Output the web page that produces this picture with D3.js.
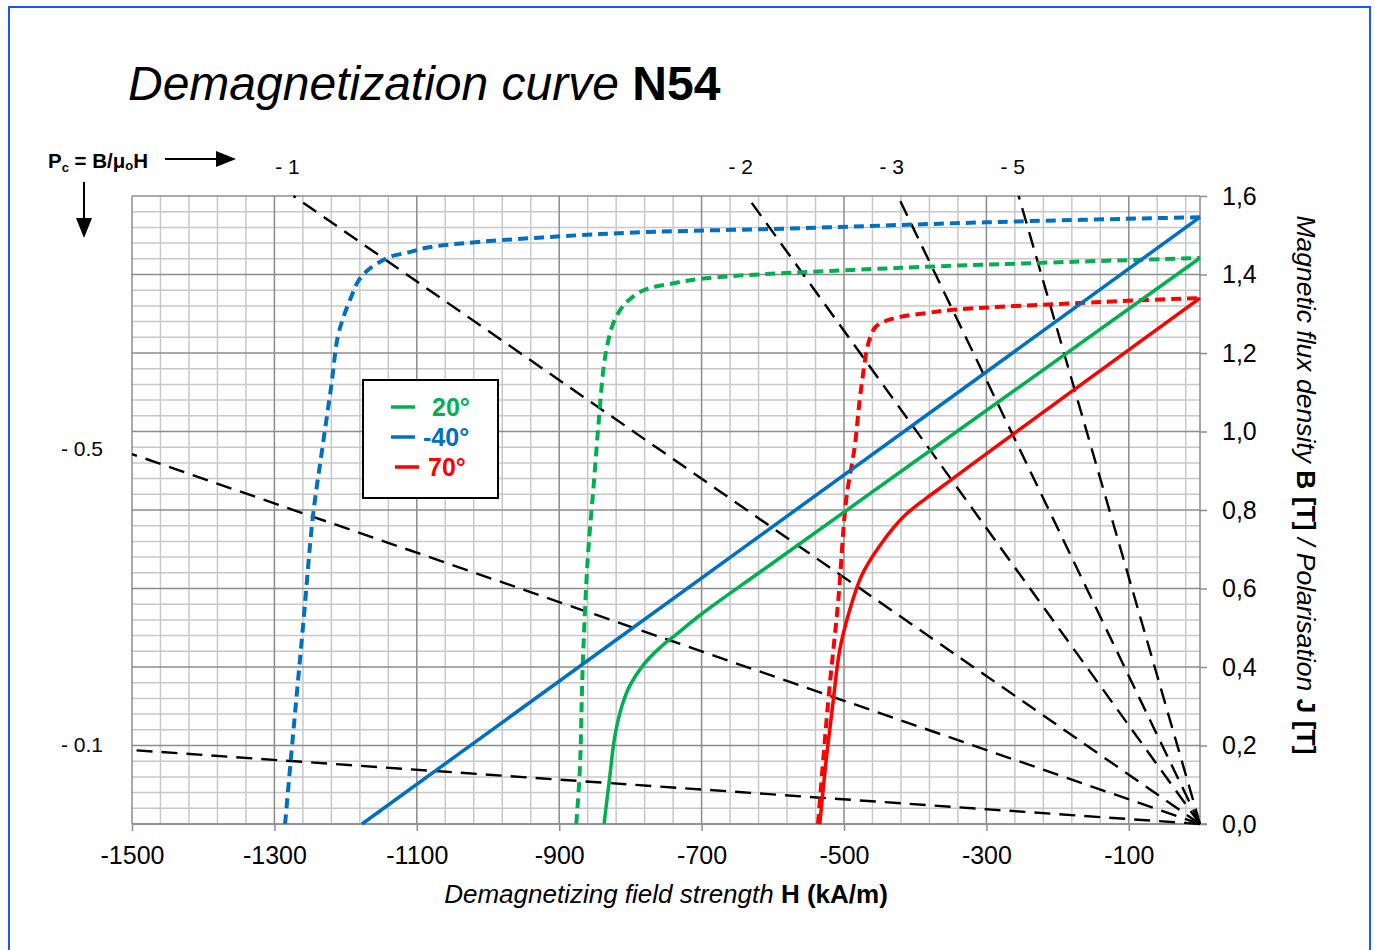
<!DOCTYPE html>
<html>
<head>
<meta charset="utf-8">
<script src="https://cdn.jsdelivr.net/npm/d3@7"></script>
<style>
  html, body { margin: 0; padding: 0; background: #fff; }
  svg { display: block; font-family: "Liberation Sans", Arial, sans-serif; }
</style>
</head>
<body>
<svg id="chart" width="1375" height="950"></svg>
<script>
// ---- Data (H in kA/m, B / J in tesla) ----
const xTicks = [-1500, -1300, -1100, -900, -700, -500, -300, -100];
const yTicks = [0, 0.2, 0.4, 0.6, 0.8, 1.0, 1.2, 1.4, 1.6];

// permeance coefficient load lines Pc = B / (mu0 H)
const pcValues = [-0.1, -0.5, -1, -2, -3, -5];
const pcLabels = ["- 0.1", "- 0.5", "- 1", "- 2", "- 3", "- 5"];

// -40 °C
const hBm40 = [-1177, 0];
const bBm40 = [0, 1.546];
const hJm40 = [-1285, -1277, -1259, -1246, -1233, -1220, -1211, -1201, -1191, -1183, -1169, -1152, -1138, -1110, -1081, -843, -562, -281, 0];
const jJm40 = [0, 0.163, 0.52, 0.782, 0.953, 1.118, 1.241, 1.302, 1.348, 1.381, 1.411, 1.432, 1.445, 1.457, 1.470, 1.503, 1.518, 1.534, 1.546];

// 20 °C
const hB20 = [-837, -829, -822, -812, -801, -782, -758, -735, -700, -600, 0];
const bB20 = [0, 0.12, 0.222, 0.30, 0.352, 0.405, 0.450, 0.484, 0.535, 0.665, 1.442];
const hJ20 = [-876, -871, -867, -860, -851, -844, -838, -833, -826, -817, -805, -789, -772, -744, -702, -421, 0];
const jJ20 = [0, 0.138, 0.40, 0.673, 0.876, 1.037, 1.157, 1.215, 1.266, 1.302, 1.330, 1.353, 1.366, 1.376, 1.389, 1.417, 1.442];

// 70 °C
const hB70 = [-534, -525, -515, -506, -492, -475, -449, -414, -365, 0];
const bB70 = [0, 0.163, 0.316, 0.443, 0.545, 0.634, 0.711, 0.787, 0.856, 1.34];
const hJ70 = [-536.5, -522, -508, -497, -485, -478, -473, -468, -463, -456, -445, -421, -383, -347, -140, 0];
const jJ70 = [0, 0.316, 0.571, 0.825, 0.961, 1.080, 1.149, 1.208, 1.241, 1.266, 1.279, 1.292, 1.302, 1.310, 1.330, 1.340];

const legendLabels = ["20°", "-40°", "70°"];
const colors = { c20: "#00B050", cm40: "#0070C0", c70: "#FF0000" };

// ---- Layout ----
const FONT = "'Liberation Sans', Arial, sans-serif";
const svg = d3.select("#chart");
const x = d3.scaleLinear().domain([-1500, 0]).range([132, 1200]);
const y = d3.scaleLinear().domain([0, 1.6]).range([824, 196]);
const MU0 = 4 * Math.PI * 1e-7 * 1000; // tesla per kA/m

// frame
svg.append("rect").attr("x", 9).attr("y", 7).attr("width", 1361).attr("height", 960)
  .attr("fill", "none").attr("stroke", "#1a55f5").attr("stroke-width", 2);

// title
const title = svg.append("text").attr("x", 128).attr("y", 100).attr("font-size", 48).attr("fill", "#000");
title.append("tspan").attr("font-style", "italic").text("Demagnetization curve ");
title.append("tspan").attr("font-weight", "bold").text("N54");

// grid
const grid = svg.append("g");
const vMinor = d3.range(-1500, 0, 40);
const hMinor = d3.range(0, 41).map(i => i * 0.04);
grid.selectAll("line.vm").data(vMinor.filter(v => (v + 1500) % 200 !== 0)).join("line")
  .attr("x1", d => x(d)).attr("x2", d => x(d)).attr("y1", y(0)).attr("y2", y(1.6))
  .attr("stroke", "#c8c8c8").attr("stroke-width", 1.5);
grid.selectAll("line.hm").data(hMinor.filter((d, i) => i % 5 !== 0)).join("line")
  .attr("x1", x(-1500)).attr("x2", x(0)).attr("y1", d => y(d)).attr("y2", d => y(d))
  .attr("stroke", "#c8c8c8").attr("stroke-width", 1.5);
grid.selectAll("line.vM").data(xTicks).join("line")
  .attr("x1", d => x(d)).attr("x2", d => x(d)).attr("y1", y(0)).attr("y2", y(1.6))
  .attr("stroke", "#8c8c8c").attr("stroke-width", 1.5);
grid.selectAll("line.hM").data(yTicks).join("line")
  .attr("x1", x(-1500)).attr("x2", x(0)).attr("y1", d => y(d)).attr("y2", d => y(d))
  .attr("stroke", "#8c8c8c").attr("stroke-width", 1.5);

// axes
const xAxis = d3.axisBottom(x).tickValues(xTicks).tickSize(7).tickFormat(d3.format("d"));
const gx = svg.append("g").attr("transform", `translate(0,${y(0)})`).call(xAxis);
gx.attr("font-family", FONT);
gx.select(".domain").attr("stroke", "#8c8c8c").attr("stroke-width", 1.5).attr("d", `M${x(-1500)},0H${x(0) + 7}`);
gx.selectAll(".tick line").attr("stroke", "#8c8c8c").attr("stroke-width", 1.5);
gx.selectAll(".tick text").attr("font-size", 25).attr("fill", "#000").attr("y", 17).attr("dy", "0.9em")
  .text(d => d3.format("d")(d).replace("−", "-"));

const yAxis = d3.axisRight(y).tickValues(yTicks).tickSize(7)
  .tickFormat(d => d3.format(".1f")(d).replace(".", ","));
const gy = svg.append("g").attr("transform", `translate(${x(0)},0)`).call(yAxis);
gy.attr("font-family", FONT);
gy.select(".domain").attr("stroke", "#8c8c8c").attr("stroke-width", 1.5).attr("d", `M0,${y(1.6)}V${y(0)}`);
gy.selectAll(".tick line").attr("stroke", "#8c8c8c").attr("stroke-width", 1.5);
gy.selectAll(".tick text").attr("font-size", 25).attr("fill", "#000").attr("x", 22);

// clip for curves
svg.append("clipPath").attr("id", "plotClip").append("rect")
  .attr("x", x(-1500)).attr("y", y(1.6) - 2).attr("width", x(0) - x(-1500) + 2).attr("height", y(0) - y(1.6) + 4);

// load lines
const loadG = svg.append("g");
pcValues.forEach((pc, i) => {
  let h0 = -1500, b0 = pc * MU0 * h0;
  if (b0 > 1.6) { b0 = 1.6; h0 = 1.6 / (pc * MU0); }
  loadG.append("line").attr("x1", x(0)).attr("y1", y(0)).attr("x2", x(h0)).attr("y2", y(b0))
    .attr("stroke", "#000").attr("stroke-width", 2.4).attr("stroke-dasharray", "16,9");
  const lbl = loadG.append("text").attr("font-size", 21).attr("fill", "#000").text(pcLabels[i]);
  if (h0 === -1500) {
    lbl.attr("x", 103).attr("y", y(b0) - 4).attr("text-anchor", "end").attr("dominant-baseline", "middle");
  } else {
    lbl.attr("x", x(h0) - 6).attr("y", 174).attr("text-anchor", "middle");
  }
});

// curves
const line = d3.line().x(d => x(d[0])).y(d => y(d[1])).curve(d3.curveCatmullRom.alpha(0.5));
const zip = (a, b) => a.map((v, i) => [v, b[i]]);
const curves = svg.append("g").attr("clip-path", "url(#plotClip)");
function drawCurve(hs, vs, color, dashed) {
  curves.append("path").datum(zip(hs, vs)).attr("d", line)
    .attr("fill", "none").attr("stroke", color)
    .attr("stroke-width", dashed ? 4 : 3.5)
    .attr("stroke-dasharray", dashed ? "10,6" : null)
    .attr("stroke-linejoin", "round");
}
drawCurve(hJm40, jJm40, colors.cm40, true);
drawCurve(hJ20, jJ20, colors.c20, true);
drawCurve(hJ70, jJ70, colors.c70, true);
drawCurve(hBm40, bBm40, colors.cm40, false);
drawCurve(hB20, bB20, colors.c20, false);
drawCurve(hB70, bB70, colors.c70, false);

// legend
const lg = svg.append("g");
lg.append("rect").attr("x", 363).attr("y", 380).attr("width", 135).attr("height", 118)
  .attr("fill", "#fff").attr("stroke", "#000").attr("stroke-width", 2);
const legendColors = [colors.c20, colors.cm40, colors.c70];
const legendLine = [[391, 415], [391, 415], [395, 419]];
const legendTextX = [432, 423, 428];
legendLabels.forEach((t, i) => {
  const yy = 407 + i * 30;
  lg.append("line").attr("x1", legendLine[i][0]).attr("x2", legendLine[i][1]).attr("y1", yy).attr("y2", yy)
    .attr("stroke", legendColors[i]).attr("stroke-width", 3.5);
  lg.append("text").attr("x", legendTextX[i]).attr("y", yy + 9).attr("font-size", 25).attr("font-weight", "bold")
    .attr("fill", legendColors[i]).text(t);
});

// permeance coefficient note with arrows
const pcText = svg.append("text").attr("x", 48).attr("y", 168).attr("font-size", 20.5).attr("font-weight", "bold");
pcText.append("tspan").text("P");
pcText.append("tspan").attr("font-size", 13).attr("dy", 4).text("c");
pcText.append("tspan").attr("dy", -4).text(" = B/μ");
pcText.append("tspan").attr("font-size", 13).attr("dy", 2).text("o");
pcText.append("tspan").attr("dy", -2).text("H");
svg.append("path").attr("d", "M165,159H225").attr("stroke", "#000").attr("stroke-width", 2)
  .attr("fill", "none");
svg.append("path").attr("d", "M216,151L236,159L216,167Z").attr("fill", "#000");
svg.append("path").attr("d", "M84,182V225").attr("stroke", "#000").attr("stroke-width", 2);
svg.append("path").attr("d", "M76,218L84,238L92,218Z").attr("fill", "#000");

// axis titles
const xt = svg.append("text").attr("x", 666).attr("y", 903).attr("text-anchor", "middle").attr("font-size", 26);
xt.append("tspan").attr("font-style", "italic").text("Demagnetizing field strength ");
xt.append("tspan").attr("font-weight", "bold").text("H (kA/m)");

const yt = svg.append("text").attr("transform", "translate(1297,485) rotate(90)")
  .attr("text-anchor", "middle").attr("font-size", 26.5);
yt.append("tspan").attr("font-style", "italic").text("Magnetic flux density ");
yt.append("tspan").attr("font-weight", "bold").text("B [T]");
yt.append("tspan").attr("font-style", "italic").text(" / Polarisation ");
yt.append("tspan").attr("font-weight", "bold").text("J [T]");
</script>
</body>
</html>
